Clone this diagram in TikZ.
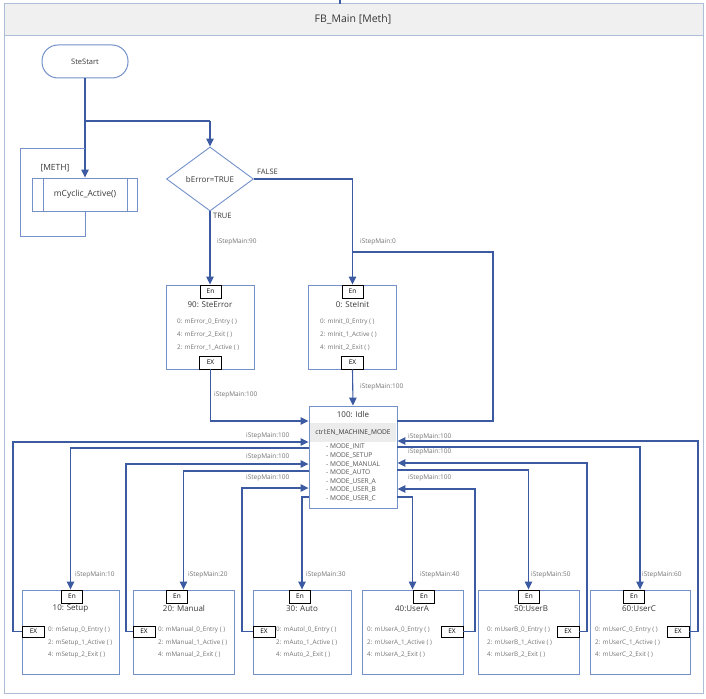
\documentclass[tikz,border=0pt]{standalone}
\usepackage{fontspec}
\setmainfont{Open Sans}
\usetikzlibrary{arrows.meta,shapes.geometric,calc}
\definecolor{linec}{RGB}{60,90,162}
\definecolor{boxc}{RGB}{115,145,200}
\definecolor{framec}{RGB}{175,190,215}
\definecolor{titlebg}{RGB}{240,240,240}
\definecolor{txtc}{RGB}{55,55,55}
\definecolor{mtxt}{RGB}{115,115,115}
\definecolor{bandbg}{RGB}{236,236,236}
\newcommand\myfs[1]{\fontsize{#1}{#1}\selectfont}
\begin{document}
\begin{tikzpicture}[x=1pt,y=-1pt,
 conn/.style={draw=linec,line width=1.1pt},
 loopc/.style={draw=boxc,line width=1pt},
 arr/.style={conn,-{Triangle[width=7.5pt,length=8pt]}},
 stepbox/.style={draw=boxc,line width=0.9pt,fill=white,minimum height=84pt,inner sep=0pt},
 enbox/.style={draw=black,line width=0.8pt,fill=white,minimum width=21pt,minimum height=13pt,inner sep=0pt,font=\myfs{6.5},text=black},
 exbox/.style={enbox,minimum width=22pt,minimum height=11pt},
 ttl/.style={font=\myfs{8},text=txtc,inner sep=0pt},
 mth/.style={font=\myfs{6.3},text=mtxt,anchor=west,inner sep=0pt},
 lbl/.style={font=\myfs{6.5},text=mtxt,anchor=west,inner sep=0pt},
 mode/.style={font=\myfs{6.6},text=txtc!85,anchor=west,inner sep=0pt},
 dtxt/.style={text=txtc,inner sep=0pt},
]
\useasboundingbox (0,0) rectangle (706,698);
% frame
\fill[titlebg] (4,4) rectangle (703,35);
\draw[framec,line width=1pt] (4,4) rectangle (703,693);
\draw[framec,line width=0.6pt] (4,35) -- (703,35);
\node[dtxt,font=\myfs{10.5}] (title) at (353,19) {FB\_Main [Meth]};
\coordinate (topin) at (340,0);
\coordinate (topend) at (340,4);
\draw[conn] (topin) -- (topend);

% start
\node[draw=boxc,line width=1pt,rounded corners=16pt,minimum width=86pt,minimum height=33pt,font=\myfs{7.5},text=txtc] (start) at (85,61.5) {SteStart};
% cyclic method
\node[draw=boxc,line width=0.9pt,minimum width=105pt,minimum height=33pt,font=\myfs{8.5},text=txtc] (cyc) at (85,194.5) {mCyclic\_Active()};
\draw[boxc,line width=0.9pt] ([xshift=11pt]cyc.north west) -- ([xshift=11pt]cyc.south west);
\draw[boxc,line width=0.9pt] ([xshift=-11pt]cyc.north east) -- ([xshift=-11pt]cyc.south east);
\node[dtxt,font=\myfs{8.5}] (meth) at (55,168) {[METH]};
% decision
\node[diamond,draw=boxc,line width=0.9pt,aspect=1.36,minimum width=87pt,minimum height=64pt,inner sep=0pt,font=\myfs{8},text=txtc] (dec) at (210,179) {bError=TRUE};
\node[dtxt,font=\myfs{7.5},anchor=west] (fl) at (257,172) {FALSE};
\node[dtxt,font=\myfs{7.5},anchor=west] (tl) at (213,216) {TRUE};
\node[lbl] (l90) at (217,242) {iStepMain:90};
\node[lbl] (l0) at (360,242) {iStepMain:0};

% SteError
\node[stepbox,minimum width=88pt] (err) at (210,327) {};
\node[enbox] (errEn) at (210.5,291.5) {En};
\node[ttl] (errT) at (210,305) {90: SteError};
\node[mth] (errM1) at (177,322) {0: mError\_0\_Entry ( )};
\node[mth] (errM2) at (177,335) {4: mError\_2\_Exit ( )};
\node[mth] (errM3) at (177,348) {2: mError\_1\_Active ( )};
\node[exbox,minimum height=13pt] (errEx) at (210.5,362.5) {EX};
% SteInit
\node[stepbox,minimum width=88pt] (init) at (352.5,327) {};
\node[enbox] (initEn) at (352.5,291.5) {En};
\node[ttl] (initT) at (352.5,305) {0: SteInit};
\node[mth] (initM1) at (320,322) {0: mInit\_0\_Entry ( )};
\node[mth] (initM2) at (320,335) {2: mInit\_1\_Active ( )};
\node[mth] (initM3) at (320,348) {4: mInit\_2\_Exit ( )};
\node[exbox,minimum height=13pt] (initEx) at (352.5,362.5) {EX};

% Idle
\node[stepbox,minimum width=88pt,minimum height=102pt] (idle) at (353,457) {};
\node[ttl] (idleT) at (353,415) {100: Idle};
\node[fill=bandbg,minimum width=86pt,minimum height=19pt,inner sep=0pt,font=\myfs{6.6},text=txtc] (band) at (353,432.5) {ctrl:EN\_MACHINE\_MODE};
\node[mode] (md1) at (326,447) {- MODE\_INIT};
\node[mode] (md2) at (326,455.6) {- MODE\_SETUP};
\node[mode] (md3) at (326,464.2) {- MODE\_MANUAL};
\node[mode] (md4) at (326,472.8) {- MODE\_AUTO};
\node[mode] (md5) at (326,481.4) {- MODE\_USER\_A};
\node[mode] (md6) at (326,490) {- MODE\_USER\_B};
\node[mode] (md7) at (326,498.6) {- MODE\_USER\_C};

% bottom steps
\node[stepbox,minimum width=97pt] (setup) at (70.5,632) {};
\node[enbox] (setupEn) at (72,596.5) {En};
\node[ttl] (setupT) at (70.5,609) {10: Setup};
\node[mth] (setupM1) at (48,630) {0: mSetup\_0\_Entry ( )};
\node[mth] (setupM2) at (48,643) {2: mSetup\_1\_Active ( )};
\node[mth] (setupM3) at (48,655) {4: mSetup\_2\_Exit ( )};
\node[exbox] (setupEx) at (33.5,631.5) {EX};

\node[stepbox,minimum width=101pt] (manual) at (183.5,632) {};
\node[enbox] (manualEn) at (177,596.5) {En};
\node[ttl] (manualT) at (184,609) {20: Manual};
\node[mth] (manualM1) at (158,630) {0: mManual\_0\_Entry ( )};
\node[mth] (manualM2) at (158,643) {2: mManual\_1\_Active ( )};
\node[mth] (manualM3) at (158,655) {4: mManual\_2\_Exit ( )};
\node[exbox] (manualEx) at (144,631.5) {EX};

\node[stepbox,minimum width=98pt] (auto) at (302,632) {};
\node[enbox] (autoEn) at (300,596.5) {En};
\node[ttl] (autoT) at (302,609) {30: Auto};
\node[mth] (autoM1) at (276,630) {0: mAutol\_0\_Entry ( )};
\node[mth] (autoM2) at (276,643) {2: mAuto\_1\_Active ( )};
\node[mth] (autoM3) at (276,655) {4: mAuto\_2\_Exit ( )};
\node[exbox] (autoEx) at (264,631.5) {EX};

\node[stepbox,minimum width=101pt] (userA) at (412.5,632) {};
\node[enbox] (userAEn) at (424,596.5) {En};
\node[ttl] (userAT) at (412,609) {40:UserA};
\node[mth] (userAM1) at (367,630) {0: mUserA\_0\_Entry ( )};
\node[mth] (userAM2) at (367,643) {2: mUserA\_1\_Active ( )};
\node[mth] (userAM3) at (367,655) {4: mUserA\_2\_Exit ( )};
\node[exbox] (userAEx) at (452,631.5) {EX};

\node[stepbox,minimum width=101pt] (userB) at (528.5,632) {};
\node[enbox] (userBEn) at (529,596.5) {En};
\node[ttl] (userBT) at (531,609) {50:UserB};
\node[mth] (userBM1) at (487,630) {0: mUserB\_0\_Entry ( )};
\node[mth] (userBM2) at (487,643) {2: mUserB\_1\_Active ( )};
\node[mth] (userBM3) at (487,655) {4: mUserB\_2\_Exit ( )};
\node[exbox] (userBEx) at (568,631.5) {EX};

\node[stepbox,minimum width=100pt] (userC) at (640,632) {};
\node[enbox] (userCEn) at (634,596.5) {En};
\node[ttl] (userCT) at (639,609) {60:UserC};
\node[mth] (userCM1) at (595,630) {0: mUserC\_0\_Entry ( )};
\node[mth] (userCM2) at (595,643) {2: mUserC\_1\_Active ( )};
\node[mth] (userCM3) at (595,655) {4: mUserC\_2\_Exit ( )};
\node[exbox] (userCEx) at (678,631.5) {EX};

% labels
\node[lbl] (l100a) at (214,395) {iStepMain:100};
\node[lbl] (l100b) at (360,387) {iStepMain:100};
\node[lbl] (l100c) at (246,436) {iStepMain:100};
\node[lbl] (l100d) at (246,457) {iStepMain:100};
\node[lbl] (l100e) at (246,478) {iStepMain:100};
\node[lbl] (l100f) at (408,437) {iStepMain:100};
\node[lbl] (l100g) at (408,452) {iStepMain:100};
\node[lbl] (l100h) at (408,478) {iStepMain:100};
\node[lbl] (l10) at (75,575) {iStepMain:10};
\node[lbl] (l20) at (188,575) {iStepMain:20};
\node[lbl] (l30) at (306,575) {iStepMain:30};
\node[lbl] (l40) at (420,575) {iStepMain:40};
\node[lbl] (l50) at (531,575) {iStepMain:50};
\node[lbl] (l60) at (642,575) {iStepMain:60};

% connectors top
\coordinate (j1) at (85,121);
\coordinate (j2) at (210,121);
\draw[conn] (start.south) -- (j1) -- (j2);
\draw[arr] (j2) -- (dec.north);
\draw[arr] (j1) -- (cyc.north);
\coordinate (lp1) at (85,236);
\coordinate (lp2) at (20,236);
\coordinate (lp3) at (20,148);
\coordinate (lp4) at (85,148);
\draw[loopc] (cyc.south) -- (lp1) -- (lp2) -- (lp3) -- (lp4);
\draw[arr] (dec.east) -| (init.north);
\draw[arr] (dec.south) -- (err.north);
\draw[arr] (errEx.south) |- ([yshift=36pt]idle.west);
\draw[arr] (initEx.south) -- (idle.north);
\coordinate (r1) at (493,421);
\coordinate (r2) at (493,252);
\coordinate (r3) at (352.5,252);
\draw[conn] ([yshift=36pt]idle.east) -- (r1) -- (r2) -- (r3);

% outs to bottom steps
\draw[arr] ([yshift=9pt]idle.west) -| (setup.north);
\draw[arr] ([yshift=-14pt]idle.west) -| (manual.north);
\draw[arr] ([yshift=-40pt]idle.west) -| (auto.north);
\draw[arr] ([yshift=-40pt]idle.east) -| (userA.north);
\draw[arr] ([yshift=-13pt]idle.east) -| (userB.north);
\draw[arr] ([yshift=10pt]idle.east) -| (userC.north);

% returns
\coordinate (sR) at (13,631.5);
\coordinate (mR) at (126,631.5);
\coordinate (aR) at (242,631.5);
\coordinate (uaR) at (475,631.5);
\coordinate (ubR) at (587,631.5);
\coordinate (ucR) at (698,631.5);
\draw[arr] (setupEx.west) -- (sR) |- ([yshift=15pt]idle.west);
\draw[arr] (manualEx.west) -- (mR) |- ([yshift=-7pt]idle.west);
\draw[arr] (autoEx.west) -- (aR) |- ([yshift=-31pt]idle.west);
\draw[arr] (userAEx.east) -- (uaR) |- ([yshift=-32pt]idle.east);
\draw[arr] (userBEx.east) -- (ubR) |- ([yshift=-6pt]idle.east);
\draw[arr] (userCEx.east) -- (ucR) |- ([yshift=16pt]idle.east);
\end{tikzpicture}
\end{document}
